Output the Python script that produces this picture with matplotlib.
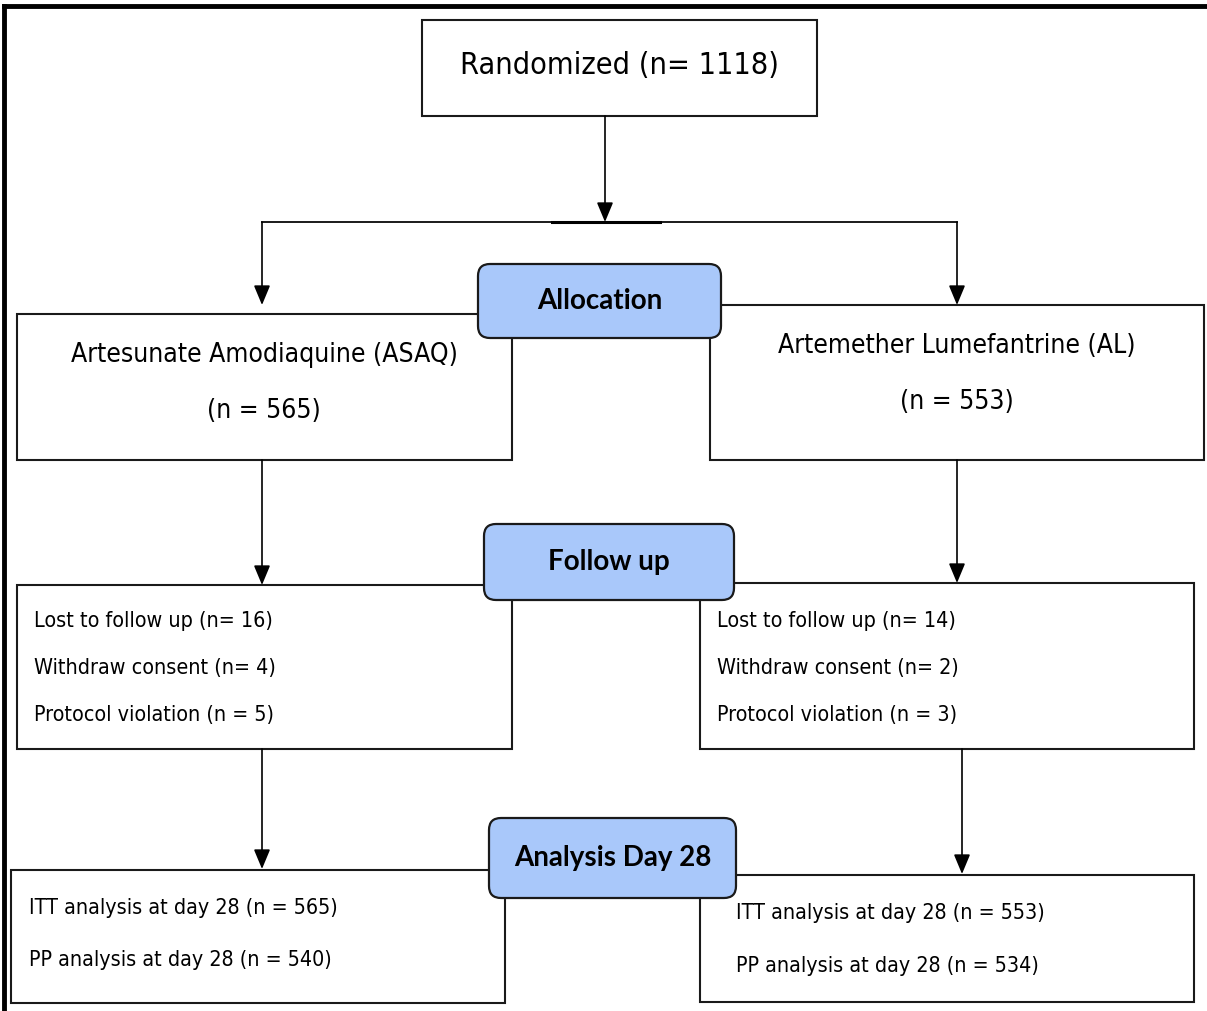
import matplotlib.pyplot as plt
from matplotlib.patches import Rectangle, FancyBboxPatch

# flowchart texts
top_text = "Randomized (n= 1118)"
arm_names = ["Artesunate Amodiaquine (ASAQ)", "Artemether Lumefantrine (AL)"]
arm_n = ["(n = 565)", "(n = 553)"]
stage_labels = ["Allocation", "Follow up", "Analysis Day 28"]
followup_asaq = ["Lost to follow up (n= 16)", "Withdraw consent (n= 4)", "Protocol violation (n = 5)"]
followup_al = ["Lost to follow up (n= 14)", "Withdraw consent (n= 2)", "Protocol violation (n = 3)"]
analysis_asaq = ["ITT analysis at day 28 (n = 565)", "PP analysis at day 28 (n = 540)"]
analysis_al = ["ITT analysis at day 28 (n = 553)", "PP analysis at day 28 (n = 534)"]

narrow = dict(family=['DejaVu Sans'], fontstretch='condensed')
boldfont = ['Lato', 'DejaVu Sans']
blue = '#a9c8fa'

fig = plt.figure(figsize=(12.07, 10.11), dpi=100)
ax = fig.add_axes([0, 0, 1, 1])
ax.set_xlim(0, 1207)
ax.set_ylim(1011, 0)
ax.axis('off')


def box(x0, y0, x1, y1):
    ax.add_patch(Rectangle((x0, y0), x1 - x0, y1 - y0, fc='white', ec='#1a1a1a', lw=1.5, zorder=2))


def rbox(x0, y0, x1, y1, label):
    ax.add_patch(FancyBboxPatch((x0, y0), x1 - x0, y1 - y0, boxstyle="round,pad=0,rounding_size=12",
                                fc=blue, ec='#1a1a1a', lw=1.6, zorder=4))
    ax.text((x0 + x1) / 2, (y0 + y1) / 2, label, ha='center', va='center', fontsize=20,
            fontweight='bold', family=boldfont, zorder=5)


def arrow(x, y0, y1):
    ax.annotate('', xy=(x, y1), xytext=(x, y0),
                arrowprops=dict(arrowstyle='-|>,head_length=1.2,head_width=0.5', color='black',
                                lw=1.2, shrinkA=0, shrinkB=0, mutation_scale=10), zorder=3)


# outer frame (top and left only)
ax.plot([4, 1207], [6, 6], color='black', lw=3.5, zorder=1)
ax.plot([4, 4], [6, 1011], color='black', lw=3.5, zorder=1)

# randomized
box(422, 20, 817, 116)
ax.text(620, 66, top_text, ha='center', va='center', fontsize=22, zorder=5, **narrow)
arrow(605, 116, 222)
ax.plot([262, 957], [222, 222], color='#1a1a1a', lw=1.4, zorder=1)
ax.plot([552, 660], [222, 222], color='black', lw=2.2, zorder=1)
arrow(262, 222, 305)
arrow(957, 222, 305)

# arms
box(17, 314, 512, 460)
ax.text(264, 355, arm_names[0], ha='center', va='center', fontsize=19, zorder=5, **narrow)
ax.text(264, 411, arm_n[0], ha='center', va='center', fontsize=19, zorder=5, **narrow)
box(710, 305, 1204, 460)
ax.text(957, 346, arm_names[1], ha='center', va='center', fontsize=19, zorder=5, **narrow)
ax.text(957, 402, arm_n[1], ha='center', va='center', fontsize=19, zorder=5, **narrow)
rbox(478, 264, 721, 338, stage_labels[0])

# follow up
arrow(262, 460, 585)
arrow(957, 460, 583)
box(17, 585, 512, 749)
box(700, 583, 1194, 749)
for i, (a, b) in enumerate(zip(followup_asaq, followup_al)):
    ax.text(34, 621 + 47 * i, a, ha='left', va='center', fontsize=15.4, zorder=5, **narrow)
    ax.text(717, 621 + 47 * i, b, ha='left', va='center', fontsize=15.4, zorder=5, **narrow)
rbox(484, 524, 734, 600, stage_labels[1])

# analysis
arrow(262, 749, 869)
arrow(962, 749, 874)
box(11, 870, 505, 1003)
box(700, 875, 1194, 1002)
for i, (a, b) in enumerate(zip(analysis_asaq, analysis_al)):
    ax.text(29, 908 + 52 * i, a, ha='left', va='center', fontsize=15.4, zorder=5, **narrow)
    ax.text(736, 913 + 53 * i, b, ha='left', va='center', fontsize=15.4, zorder=5, **narrow)
rbox(489, 818, 736, 898, stage_labels[2])

fig.savefig('out.png', dpi=100)
